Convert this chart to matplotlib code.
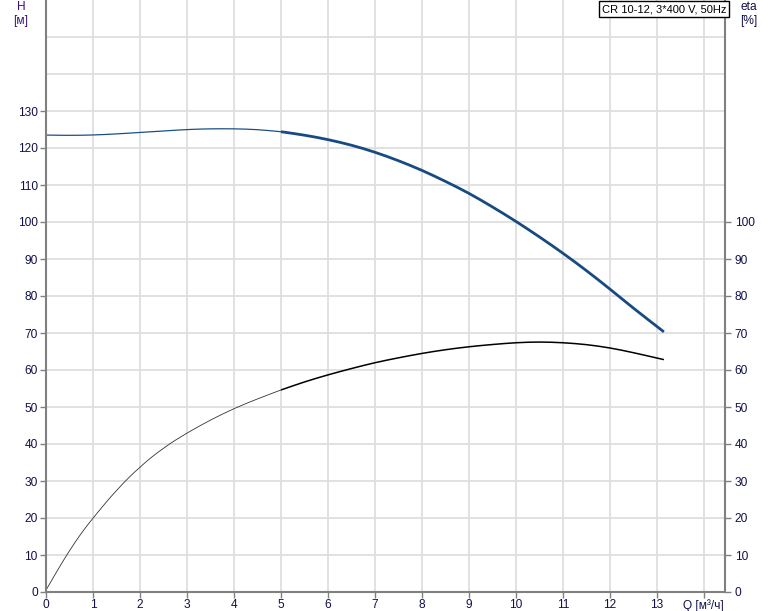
import matplotlib
matplotlib.use("Agg")
import matplotlib.pyplot as plt
from matplotlib.path import Path
from matplotlib.patches import PathPatch
import numpy as np

# Data
q_h = [0.0, 0.5, 1.0, 1.5, 2.0, 2.5, 3.0, 3.5, 4.0, 4.5, 5.0, 5.5, 6.0, 6.5, 7.0, 7.5, 8.0, 8.5, 9.0, 9.5, 10.0, 10.5, 11.0, 11.5, 12.0, 12.5, 13.15]
head = [123.5, 123.4, 123.5, 123.8, 124.2, 124.6, 125.0, 125.2, 125.2, 125.0, 124.4, 123.5, 122.3, 120.8, 118.9, 116.6, 114.0, 111.0, 107.8, 104.1, 100.2, 96.0, 91.6, 86.9, 81.9, 76.7, 70.3]
q_eta = [0.0, 0.25, 0.5, 0.75, 1.0, 1.5, 2.0, 2.5, 3.0, 3.5, 4.0, 4.5, 5.0, 5.5, 6.0, 6.5, 7.0, 7.5, 8.0, 8.5, 9.0, 9.5, 10.0, 10.5, 11.0, 11.5, 12.0, 12.5, 13.15]
eta = [0.5, 6.0, 11.2, 15.9, 20.0, 27.6, 33.9, 39.0, 43.0, 46.5, 49.6, 52.2, 54.6, 56.8, 58.7, 60.4, 62.0, 63.3, 64.5, 65.5, 66.3, 66.9, 67.4, 67.6, 67.4, 66.9, 66.0, 64.7, 62.8]
x_ticks = list(range(0, 15))
x_labels = [str(i) for i in range(0, 14)] + ["Q [м³/ч]"]
left_ticks = list(range(0, 140, 10))
extra_grid = [140, 150]
right_ticks = list(range(0, 110, 10))
title = "CR 10-12, 3*400 V, 50Hz"

plt.rcParams['font.family'] = ['Liberation Sans', 'DejaVu Sans']

fig = plt.figure(figsize=(7.74, 6.11), dpi=100)
ax = fig.add_axes([46/774, 19/611, (725-46)/774, 592/611])
ax.set_xlim(0, 14.45)
ax.set_ylim(0, 160)

tick_col = '#10104a'
grid_col = '#dedede'
spine_col = '#808080'
fs = 8.6

ax.set_xticks(x_ticks)
ax.set_xticklabels(x_labels, fontsize=fs, color=tick_col)
ax.set_yticks(left_ticks)
ax.set_yticklabels([str(v) for v in left_ticks], fontsize=fs, color=tick_col)
ax.grid(True, color=grid_col, linewidth=1.3)
for g in extra_grid:
    ax.axhline(g, color=grid_col, linewidth=1.3, zorder=0.5)
ax.set_axisbelow(True)
ax.tick_params(axis='both', length=4, width=1, color=spine_col, pad=2)
ax.tick_params(axis='x', pad=1)
for s in ['left', 'bottom', 'right']:
    ax.spines[s].set_color(spine_col)
    ax.spines[s].set_linewidth(1.5)
ax.spines['top'].set_visible(False)

ax2 = ax.twinx()
ax2.set_ylim(0, 160)
ax2.set_yticks(right_ticks)
ax2.set_yticklabels([str(v) for v in right_ticks], fontsize=fs, color=tick_col)
ax2.tick_params(axis='y', length=4, width=1, color=spine_col, pad=3)
for s in ['left', 'bottom', 'right', 'top']:
    ax2.spines[s].set_visible(False)


def smooth_path(xs, ys):
    xs = np.asarray(xs, float); ys = np.asarray(ys, float)
    verts = [(xs[0], ys[0])]
    codes = [Path.MOVETO]
    mids = [((xs[i] + xs[i+1]) / 2, (ys[i] + ys[i+1]) / 2) for i in range(len(xs) - 1)]
    verts.append(mids[0]); codes.append(Path.LINETO)
    for i in range(1, len(xs) - 1):
        verts.append((xs[i], ys[i])); codes.append(Path.CURVE3)
        verts.append(mids[i]); codes.append(Path.CURVE3)
    verts.append((xs[-1], ys[-1])); codes.append(Path.LINETO)
    return Path(verts, codes)


def draw(xs, ys, color, lw):
    p = PathPatch(smooth_path(xs, ys), facecolor='none', edgecolor=color, linewidth=lw,
                  capstyle='butt', joinstyle='round')
    ax.add_patch(p)


qh = np.array(q_h); hh = np.array(head)
qe = np.array(q_eta); ee = np.array(eta)
m1 = qh <= 5.0
m2 = qh >= 5.0
draw(qh[m1], hh[m1], '#1b4f86', 0.9)
draw(qh[m2], hh[m2], '#174a80', 2.0)
n1 = qe <= 5.0
n2 = qe >= 5.0
draw(qe[n1], ee[n1], '#333333', 0.6)
draw(qe[n2], ee[n2], '#000000', 1.1)

fig.text(21/774, 1 - 7/611, 'H', fontsize=fs, color='#3a1070', ha='center', va='center')
fig.text(21/774, 1 - 21/611, '[м]', fontsize=fs, color='#3a1070', ha='center', va='center')
fig.text(749/774, 1 - 7/611, 'eta', fontsize=fs, color='#10104a', ha='center', va='center')
fig.text(749/774, 1 - 21/611, '[%]', fontsize=fs, color='#10104a', ha='center', va='center')
fig.text(664/774, 1 - 9/611, title, fontsize=8, color='#000000', ha='center', va='center',
         bbox=dict(boxstyle='square,pad=0.25', facecolor='white', edgecolor='black', linewidth=1))

fig.savefig('out.png', dpi=100)
